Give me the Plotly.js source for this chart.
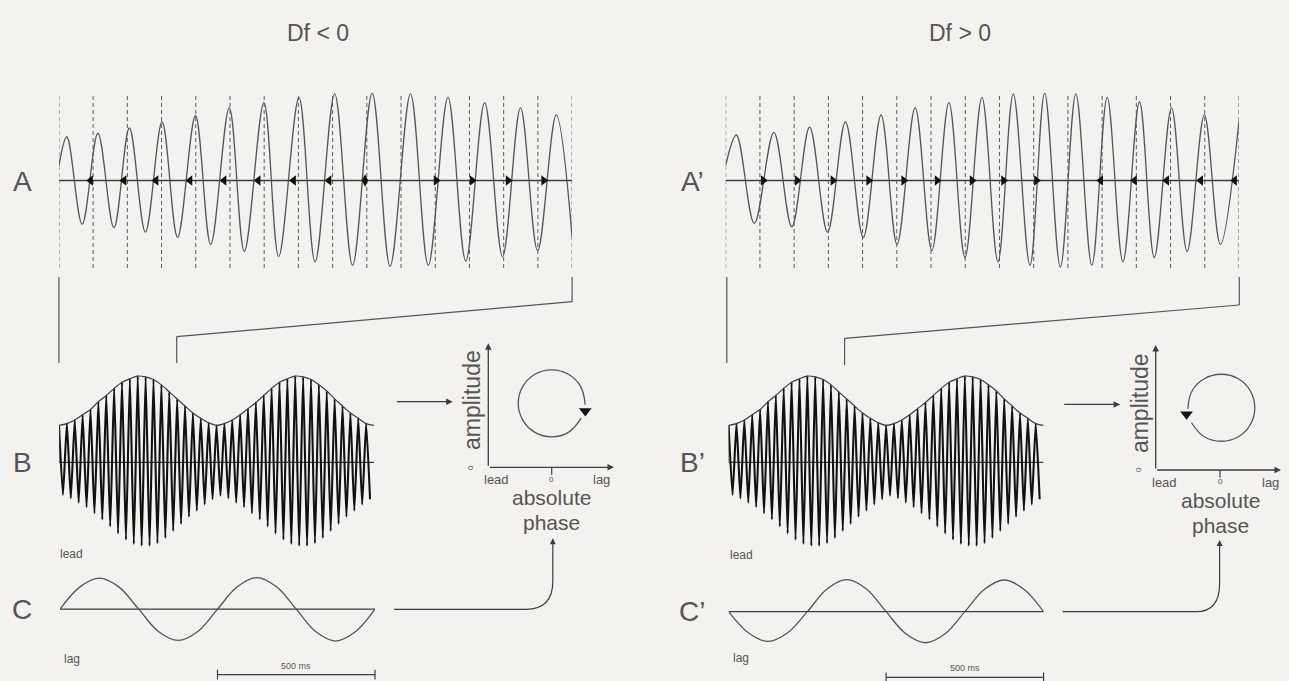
<!DOCTYPE html>
<html>
<head>
<meta charset="utf-8">
<script src="https://cdn.plot.ly/plotly-3.0.1.min.js"></script>
<style>html,body{margin:0;padding:0;background:#f4f2ef;}#chart{width:1289px;height:681px;}</style>
</head>
<body>
<div id="chart"></div>
<script>
// ---------------- DATA ----------------
// Panel A (Df<0): extrema of the stimulus wave, time in ms, amplitude normalised
const aLeftTimes  = [0, 5.8, 17.0, 28.5, 40.2, 51.5, 63.2, 75.4, 86.7, 99.8, 110.9, 124.5, 135.5, 149.8, 160.6, 175.4, 187.2, 201.5, 214.6, 228.9, 242.0, 256.9, 269.9, 284.3, 297.3, 311.1, 324.2, 337.3, 349.8, 363.4, 375];
const aLeftValues = [0.17, 0.50, -0.50, 0.54, -0.54, 0.60, -0.59, 0.67, -0.65, 0.74, -0.73, 0.83, -0.81, 0.89, -0.87, 0.95, -0.93, 0.99, -0.97, 1.00, -0.98, 0.99, -0.97, 0.95, -0.92, 0.89, -0.87, 0.83, -0.80, 0.75, -0.65];
// Panel A' (Df>0)
const aRightTimes  = [0, 7.8, 20.9, 35.2, 48.3, 61.3, 74.4, 87.5, 100.5, 113.5, 125.2, 138.4, 150.6, 163.1, 174.8, 187.2, 198.9, 210.1, 222.3, 233.0, 244.5, 255.8, 267.5, 278.7, 290.2, 302.3, 313.1, 325.7, 337.1, 349.7, 361.4, 375];
const aRightValues = [0.17, 0.52, -0.49, 0.55, -0.53, 0.61, -0.59, 0.67, -0.65, 0.75, -0.73, 0.83, -0.80, 0.89, -0.88, 0.95, -0.93, 0.99, -0.97, 1.00, -0.99, 0.99, -0.97, 0.95, -0.93, 0.90, -0.88, 0.83, -0.81, 0.75, -0.73, 0.68];
// reference cycle marks (dashed lines), ms
const refTimes = [0, 25, 50, 75, 100, 125, 150, 175, 200, 225, 250, 275, 300, 325, 350, 375];
// phase markers on the A axes (ms)
const aLeftLeadMarks  = [23.2, 47.6, 71.0, 95.8, 120.7, 145.6, 171.5, 197.4];
const aLeftZeroMarks  = [223.7];
const aLeftLagMarks   = [275.6, 301.9, 328.2, 354.2];
const aRightLagMarks  = [27.4, 52.2, 78.3, 104.4, 130.0, 154.4, 180.0, 203.0, 227.0];
const aRightLeadMarks = [274.0, 298.7, 322.2, 347.0, 371.8];

// Panel B: beating waveform (1 s), carrier peaks and troughs
const bPeakTimes = [0, 25, 50, 75, 100, 125, 150, 175, 200, 225, 250, 275, 300, 325, 350, 375, 400, 425, 450, 475, 500, 525, 550, 575, 600, 625, 650, 675, 700, 725, 750, 775, 800, 825, 850, 875, 900, 925, 950, 975];
const bPeakValues = [0.42, 0.44, 0.48, 0.54, 0.60, 0.69, 0.76, 0.84, 0.91, 0.95, 0.98, 0.97, 0.94, 0.88, 0.80, 0.72, 0.64, 0.56, 0.50, 0.45,
                     0.42, 0.44, 0.48, 0.54, 0.61, 0.68, 0.76, 0.84, 0.91, 0.95, 0.98, 0.97, 0.94, 0.88, 0.81, 0.72, 0.64, 0.56, 0.50, 0.44];
const bTroughTimes = [12.5, 37.5, 62.5, 87.5, 112.5, 137.5, 162.5, 187.5, 212.5, 237.5, 262.5, 287.5, 312.5, 337.5, 362.5, 387.5, 412.5, 437.5, 462.5, 487.5, 512.5, 537.5, 562.5, 587.5, 612.5, 637.5, 662.5, 687.5, 712.5, 737.5, 762.5, 787.5, 812.5, 837.5, 862.5, 887.5, 912.5, 937.5, 962.5, 987.5];
const bTroughValues = [-0.37, -0.41, -0.46, -0.51, -0.58, -0.65, -0.73, -0.81, -0.88, -0.93, -0.95, -0.95, -0.92, -0.86, -0.78, -0.70, -0.62, -0.55, -0.48, -0.42,
                       -0.38, -0.41, -0.46, -0.51, -0.58, -0.65, -0.73, -0.81, -0.88, -0.93, -0.95, -0.95, -0.92, -0.86, -0.78, -0.70, -0.62, -0.55, -0.48, -0.42];
const bEnvEnd = [1000, 0.42];

// Panel C: phase of the response (lead +, lag -)
const cTimes = [0, 62.5, 125, 187.5, 250, 312.5, 375, 437.5, 500, 562.5, 625, 687.5, 750, 812.5, 875, 937.5, 1000];
const cLeftValues  = [0, 0.69, 0.97, 0.69, 0, -0.70, -0.98, -0.70, 0, 0.70, 0.99, 0.70, 0, -0.71, -1.00, -0.71, 0];
const cRightValues = [0, -0.66, -0.93, -0.66, 0, 0.71, 1.00, 0.71, 0, -0.69, -0.97, -0.69, 0, 0.70, 0.99, 0.70, 0];
const scaleBar = [500, 1000];
const scaleLabel = '500 ms';

// amplitude / absolute-phase loops
const loopLeftPhase  = [0.465, 0.264, 0, -0.264, -0.457, -0.528, -0.457, -0.264, 0, 0.264, 0.457, 0.528];
const loopLeftAmp    = [0.396, 0.282, 0.246, 0.282, 0.381, 0.516, 0.651, 0.750, 0.786, 0.750, 0.651, 0.505];
const loopLeftHead   = [0.53, 0.455];
const loopRightPhase = [-0.445, -0.245, 0.02, 0.285, 0.473, 0.541, 0.473, 0.285, 0.02, -0.245, -0.435, -0.50];
const loopRightAmp   = [0.380, 0.266, 0.230, 0.266, 0.364, 0.498, 0.632, 0.730, 0.766, 0.730, 0.632, 0.49];
const loopRightHead  = [-0.52, 0.445];

const titles = ['Df < 0', 'Df > 0'];
const panelLetters = ['A', 'B', 'C', 'A’', 'B’', 'C’'];
const loopLabels = {amp: 'amplitude', zero: '0', lead: 'lead', lag: 'lag', abs: 'absolute', phase: 'phase'};

// ---------------- DRAWING ----------------
const W = 1289, H = 681;
const px = x => x / W, py = y => 1 - y / H;
const INK = '#3d3d3d', WAVE = '#555555', TXT = '#555555';
const FONT = 'Liberation Sans, Arial, sans-serif';

function vlines(times, y0, y1) {
  const xs = [], ys = [];
  times.forEach(t => { xs.push(t, t, null); ys.push(y0, y1, null); });
  return {xs, ys};
}
function interleave(t1, v1, t2, v2) {
  const pts = [];
  t1.forEach((t, i) => pts.push([t, v1[i]]));
  t2.forEach((t, i) => pts.push([t, v2[i]]));
  pts.sort((a, b) => a[0] - b[0]);
  return {x: pts.map(p => p[0]), y: pts.map(p => p[1])};
}

const traces = [];
function line(xa, ya, x, y, opts) {
  traces.push(Object.assign({type: 'scatter', mode: 'lines', x, y, xaxis: xa, yaxis: ya,
    hoverinfo: 'skip', line: {color: INK, width: 1.2}}, opts || {}));
}
function marks(xa, ya, x, symbol) {
  traces.push({type: 'scatter', mode: 'markers', x, y: x.map(() => 0), xaxis: xa, yaxis: ya,
    hoverinfo: 'skip', cliponaxis: false, marker: {symbol, size: 9, color: '#111'}});
}

// --- A panels ---
[['x', 'y', aLeftTimes, aLeftValues], ['x2', 'y2', aRightTimes, aRightValues]].forEach(([xa, ya, t, v]) => {
  const d = vlines(refTimes, -1, 1);
  line(xa, ya, d.xs, d.ys, {line: {color: '#5a5a5a', width: 1, dash: '4px,3px'}});
  line(xa, ya, [refTimes[0], refTimes[refTimes.length - 1]], [0, 0], {line: {color: INK, width: 1.3}});
  line(xa, ya, t, v, {line: {color: WAVE, width: 1.3, shape: 'spline', smoothing: 1}});
});
marks('x', 'y', aLeftLeadMarks, 'triangle-left');
marks('x', 'y', aLeftZeroMarks, 'diamond-tall');
marks('x', 'y', aLeftLagMarks, 'triangle-right');
marks('x2', 'y2', aRightLagMarks, 'triangle-right');
marks('x2', 'y2', aRightLeadMarks, 'triangle-left');

// --- B panels ---
const bWave = interleave(bPeakTimes, bPeakValues, bTroughTimes, bTroughValues);
[['x3', 'y3'], ['x4', 'y4']].forEach(([xa, ya]) => {
  line(xa, ya, [0, 1000], [0, 0], {line: {color: INK, width: 1.3}});
  line(xa, ya, bWave.x, bWave.y, {line: {color: '#111111', width: 2.1, shape: 'spline', smoothing: 0.5}});
  line(xa, ya, bPeakTimes.concat([bEnvEnd[0]]), bPeakValues.concat([bEnvEnd[1]]),
       {line: {color: INK, width: 1.2, shape: 'spline', smoothing: 1}});
  line(xa, ya, [0, 0], [0, bPeakValues[0]], {line: {color: INK, width: 1.2}});
});

// --- C panels ---
[['x5', 'y5', cLeftValues], ['x6', 'y6', cRightValues]].forEach(([xa, ya, v]) => {
  line(xa, ya, [cTimes[0], cTimes[cTimes.length - 1]], [0, 0], {line: {color: INK, width: 1.3}});
  line(xa, ya, cTimes, v, {line: {color: WAVE, width: 1.3, shape: 'spline', smoothing: 1}});
  traces.push({type: 'scatter', mode: 'lines+markers', x: scaleBar, y: [-2.05, -2.05], xaxis: xa, yaxis: ya,
    hoverinfo: 'skip', cliponaxis: false, line: {color: INK, width: 1.2},
    marker: {symbol: 'line-ns', size: 7, line: {color: INK, width: 1.2}}});
});

// --- amplitude / phase loops ---
[['x7', 'y7', loopLeftPhase, loopLeftAmp, loopLeftHead], ['x8', 'y8', loopRightPhase, loopRightAmp, loopRightHead]].forEach(([xa, ya, p, a, h]) => {
  line(xa, ya, p, a, {line: {color: WAVE, width: 1.3, shape: 'spline', smoothing: 1.2}});
  traces.push({type: 'scatter', mode: 'markers', x: [h[0]], y: [h[1]], xaxis: xa, yaxis: ya, hoverinfo: 'skip',
    cliponaxis: false, marker: {symbol: 'triangle-down', size: 11, color: '#111'}});
  line(xa, ya, [0, 0], [0, -0.06], {line: {color: INK, width: 1.2}});
});

// ---------------- LAYOUT ----------------
const hidden = {visible: false, fixedrange: true};
const layout = {
  width: W, height: H, margin: {l: 0, r: 0, t: 0, b: 0},
  paper_bgcolor: '#f4f2ef', plot_bgcolor: 'rgba(0,0,0,0)', showlegend: false,
  font: {family: FONT, color: TXT},
  xaxis:  Object.assign({domain: [px(58.9), px(572.1)], range: [0, 375], anchor: 'y'}, hidden),
  yaxis:  Object.assign({domain: [py(268), py(93)], range: [-1, 1], anchor: 'x'}, hidden),
  xaxis2: Object.assign({domain: [px(725.7), px(1239)], range: [0, 375], anchor: 'y2'}, hidden),
  yaxis2: Object.assign({domain: [py(268), py(93)], range: [-1, 1], anchor: 'x2'}, hidden),
  xaxis3: Object.assign({domain: [px(59), px(374)], range: [0, 1000], anchor: 'y3'}, hidden),
  yaxis3: Object.assign({domain: [py(550.3), py(374.3)], range: [-1, 1], anchor: 'x3'}, hidden),
  xaxis4: Object.assign({domain: [px(728.6), px(1043.6)], range: [0, 1000], anchor: 'y4'}, hidden),
  yaxis4: Object.assign({domain: [py(550.3), py(374.3)], range: [-1, 1], anchor: 'x4'}, hidden),
  xaxis5: Object.assign({domain: [px(60), px(375)], range: [0, 1000], anchor: 'y5'}, hidden),
  yaxis5: Object.assign({domain: [0, py(545.3)], range: [-2.25, 2.0], anchor: 'x5'}, hidden),
  xaxis6: Object.assign({domain: [px(728.6), px(1043.6)], range: [0, 1000], anchor: 'y6'}, hidden),
  yaxis6: Object.assign({domain: [0, py(547.7)], range: [-2.166, 2.0], anchor: 'x6'}, hidden),
  xaxis7: Object.assign({domain: [px(488.3), px(615.1)], range: [-1, 1], anchor: 'y7'}, hidden),
  yaxis7: Object.assign({domain: [py(479.7), py(343.3)], range: [-0.1, 1], anchor: 'x7'}, hidden),
  xaxis8: Object.assign({domain: [px(1155.7), px(1284.3)], range: [-1, 1], anchor: 'y8'}, hidden),
  yaxis8: Object.assign({domain: [py(482.5), py(345)], range: [-0.1, 1], anchor: 'x8'}, hidden),
  annotations: [], shapes: []
};
const A = layout.annotations, S = layout.shapes;
function txt(text, x, y, size, opts) {
  A.push(Object.assign({text, x: px(x), y: py(y), xref: 'paper', yref: 'paper', showarrow: false,
    xanchor: 'center', yanchor: 'middle', font: {family: FONT, size, color: TXT}}, opts || {}));
}
function arrowPx(x0, y0, x1, y1) {
  A.push({text: '', x: px(x1), y: py(y1), ax: x0 - x1, ay: y0 - y1, xref: 'paper', yref: 'paper',
    showarrow: true, arrowhead: 2, arrowsize: 1, arrowwidth: 1.3, arrowcolor: INK, standoff: 0, startstandoff: 0});
}
// titles and letters
txt(titles[0], 318, 33, 23);
txt(titles[1], 960, 33, 23);
txt(panelLetters[0], 22, 181, 28);
txt(panelLetters[1], 22, 462, 28);
txt(panelLetters[2], 22, 609, 28);
txt(panelLetters[3], 692, 181, 28);
txt(panelLetters[4], 692, 462, 28);
txt(panelLetters[5], 692, 611, 28);

// C labels (in the C axes)
function atxt(text, xa, ya, x, y, size) {
  A.push({text, x, y, xref: xa, yref: ya, showarrow: false, xanchor: 'center', yanchor: 'middle',
    font: {family: FONT, size, color: TXT}});
}
atxt('lead', 'x5', 'y5', 38, 1.73, 12);
atxt('lag', 'x5', 'y5', 38, -1.57, 12);
atxt(scaleLabel, 'x5', 'y5', 750, -1.78, 9);
atxt('lead', 'x6', 'y6', 40, 1.77, 12);
atxt('lag', 'x6', 'y6', 40, -1.46, 12);
atxt(scaleLabel, 'x6', 'y6', 750, -1.77, 9);

// loop diagrams: axes arrows and labels (pixel positions)
function loopDeco(ox, oy, topY, tipX, zeroX) {
  arrowPx(ox, oy, ox, topY);
  arrowPx(ox, oy, tipX, oy);
  txt(loopLabels.amp, ox - 15.6, oy - 67, 23, {textangle: -90});
  txt(loopLabels.zero, ox - 17.6, oy, 8, {textangle: -90});
  txt(loopLabels.lead, ox + 8.4, oy + 12.5, 13);
  txt(loopLabels.zero, zeroX, oy + 12, 8, {borderpad: 0});
  txt(loopLabels.lag, zeroX + 50, oy + 12.5, 13);
  txt(loopLabels.abs, zeroX, oy + 43, 21, {yanchor: 'bottom', borderpad: 0});
  txt(loopLabels.phase, zeroX, oy + 43, 21, {yanchor: 'top', borderpad: 0});
  arrowPx(ox - 93, oy - 65.6, ox - 35.6, oy - 65.6);
}
loopDeco(488.3, 467.3, 343.3, 614, 551.7);
loopDeco(1155.7, 470, 345, 1281, 1220);

// connector brackets (A -> B)
function seg(x0, y0, x1, y1) {
  S.push({type: 'line', xref: 'paper', yref: 'paper', x0: px(x0), y0: py(y0), x1: px(x1), y1: py(y1),
    line: {color: '#555', width: 1.2}});
}
seg(58.9, 277, 58.9, 363);
seg(572.1, 277, 572.1, 301.7);
seg(572.1, 301.7, 176.7, 336.7);
seg(176.7, 336.7, 176.7, 363);
seg(726.8, 277, 726.8, 363);
seg(1239.3, 277, 1239.3, 305);
seg(1239.3, 305, 844.6, 338.3);
seg(844.6, 338.3, 844.6, 365);

// curved arrows C -> absolute phase
function curved(xs, ys, xe, xc, ytip) {
  const p = (x, y) => px(x).toFixed(5) + ',' + py(y).toFixed(5);
  S.push({type: 'path', xref: 'paper', yref: 'paper',
    path: 'M' + p(xs, ys) + ' L' + p(xe, ys) + ' Q' + p(xc, ys) + ' ' + p(xc, ys - 28) + ' L' + p(xc, ytip + 8),
    line: {color: INK, width: 1.2}});
  A.push({text: '', x: px(xc), y: py(ytip), xref: 'paper', yref: 'paper', ax: 0, ay: 10,
    showarrow: true, arrowhead: 2, arrowsize: 1, arrowwidth: 1.2, arrowcolor: INK, standoff: 0});
}
curved(394, 609.3, 526, 552.8, 538.3);
curved(1062.5, 611.7, 1196, 1219.6, 540);

Plotly.newPlot('chart', traces, layout, {staticPlot: true, displayModeBar: false});
</script>
</body>
</html>
